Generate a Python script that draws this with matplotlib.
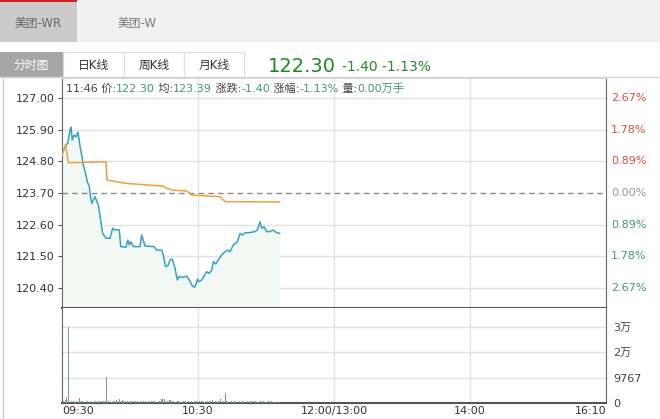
#!/usr/bin/env python3
import matplotlib
matplotlib.use('Agg')
import matplotlib.pyplot as plt
from matplotlib.patches import Rectangle

plt.rcParams['font.family'] = ['DejaVu Sans', 'Noto Sans CJK SC']

# ====== chart data ======
pre_close = 123.70
price_ticks = [127.00, 125.90, 124.80, 123.70, 122.60, 121.50, 120.40]
pct_labels = ['2.67%', '1.78%', '0.89%', '0.00%', '0.89%', '1.78%', '2.67%']
pct_colors = ['#d5503c', '#d5503c', '#d5503c', '#999999', '#3f9a72', '#3f9a72', '#3f9a72']
time_ticks = [0, 85, 170, 255, 340]
time_labels = ['09:30', '10:30', '12:00/13:00', '14:00', '16:10']
vol_ticks = [0, 9767, 19534, 29301]
vol_labels = ['0', '9767', '2万', '3万']

# minutes since 09:30 and last price
price_min = [0, 2.3, 3.6, 5.0, 5.6, 6.4, 7.5, 8.8, 10.0, 11.3, 12.3, 13.3, 15.0, 15.8,
             17.1, 17.5, 18.6, 20.6, 22.7, 23.8, 25.4, 27.5, 30.0, 31.7, 33.1, 35.8,
             36.7, 40.0, 41.1, 42.1, 42.9, 44.6, 48.8, 49.8, 51.9, 57.5, 59.2, 62.3,
             63.3, 64.8, 66.4, 67.5, 68.9, 70.6, 72.1, 73.1, 75.4, 77.9, 79.6, 81.1,
             82.7, 83.6, 84.6, 85.6, 87.3, 88.8, 90.4, 92.1, 93.6, 94.6, 96.1, 97.7,
             99.8, 101.9, 103.6, 105.0, 107.1, 109.6, 111.3, 112.9, 114.4, 116.4,
             118.6, 120.6, 122.1, 123.8, 124.8, 126.3, 127.9, 130.0, 131.7, 134.2, 136]
price_val = [125.02, 125.37, 125.42, 125.89, 125.98, 125.54, 125.71, 125.65, 125.81,
             125.31, 125.02, 124.67, 124.32, 124.09, 123.92, 123.69, 123.34, 123.57,
             123.28, 122.88, 122.30, 122.13, 122.13, 122.48, 122.42, 122.42, 121.84,
             121.82, 122.07, 121.90, 122.01, 121.84, 121.84, 122.24, 121.86, 121.84,
             121.72, 121.72, 121.55, 121.14, 121.20, 121.38, 121.41, 121.09, 120.68,
             120.80, 120.77, 120.82, 120.68, 120.51, 120.43, 120.51, 120.71, 120.62,
             120.68, 120.82, 120.97, 120.91, 121.03, 121.32, 121.24, 121.38, 121.55,
             121.66, 121.72, 121.66, 121.90, 122.01, 122.30, 122.24, 122.32, 122.32,
             122.34, 122.36, 122.42, 122.70, 122.48, 122.53, 122.36, 122.36, 122.42,
             122.32, 122.30]

# average price line
avg_min = [0, 2.3, 4.0, 27.5, 28.1, 39.4, 52.9, 63.1, 65.4, 69.4, 77.9, 81.1, 98.8, 101.9, 136]
avg_val = [125.02, 125.37, 124.75, 124.78, 124.15, 124.04, 123.98, 123.94, 123.86,
           123.80, 123.77, 123.63, 123.57, 123.40, 123.39]

# volume per minute, 09:30 .. 11:46
vol_val = [600, 800, 1200, 2200, 29200, 900, 700, 600, 500, 700,
           900, 2000, 800, 600, 500, 700, 600, 500, 600, 500,
           700, 600, 500, 600, 700, 500, 600, 800, 10100, 700,
           600, 500, 700, 600, 1200, 900, 1400, 800, 1100, 700,
           1500, 600, 500, 700, 600, 500, 600, 700, 500, 600,
           500, 700, 600, 500, 600, 500, 600, 700, 600, 500,
           600, 700, 1500, 1600, 1400, 700, 600, 1100, 1300, 900,
           600, 500, 700, 600, 500, 600, 700, 600, 500, 800,
           3450, 600, 500, 700, 600, 500, 600, 700, 600, 500,
           600, 700, 800, 600, 1200, 700, 600, 500, 900, 1500,
           700, 600, 3700, 600, 500, 600, 700, 500, 600, 500,
           600, 700, 500, 600, 500, 400, 600, 500, 600, 700,
           500, 600, 500, 400, 600, 500, 600, 500, 400, 600,
           500, 600, 500, 400, 500, 600, 500]
vol_min = list(range(len(vol_val)))

# info line: (text, is_value)
info = [('11:46 价:', False), ('122.30', True), (' 均:', False), ('123.39', True),
        (' 涨跌:', False), ('-1.40', True), (' 涨幅:', False), ('-1.13%', True),
        (' 量:', False), ('0.00万手', True)]

W, H = 660, 419


def px(x0, y0, x1, y1):
    return [x0 / W, 1 - y1 / H, (x1 - x0) / W, (y1 - y0) / H]


fig = plt.figure(figsize=(6.6, 4.19), dpi=100)
fig.patch.set_facecolor('white')

# ---- price panel ----
ax = fig.add_axes(px(62, 78, 606, 308))
ax.set_xlim(0, 340)
ax.set_ylim(119.71, 127.69)
for p in price_ticks:
    if p == pre_close:
        ax.axhline(p, color='#8a8a8a', lw=1, ls=(0, (4, 3)), zorder=3)
    else:
        ax.axhline(p, color='#e2e2e2', lw=1, zorder=1)
for t in time_ticks[1:-1]:
    ax.axvline(t, color='#e2e2e2', lw=1, zorder=1)
ax.fill_between(price_min, price_val, 119.71, color='#f2f8f4', lw=0, zorder=2)
ax.plot(price_min, price_val, color='#35a3c4', lw=1.1, zorder=4)
ax.plot(avg_min, avg_val, color='#f0a040', lw=1.1, zorder=4)

ax.set_yticks(price_ticks, ['%.2f' % p for p in price_ticks])
ax.tick_params(axis='y', length=3, color='#555555', labelsize=8, labelcolor='#333333', pad=2)
ax.set_xticks([])
for p, lab, c in zip(price_ticks, pct_labels, pct_colors):
    ax.text(1 + 5 / 544, p, lab, transform=ax.get_yaxis_transform(),
            ha='left', va='center', fontsize=8, color=c)
ax.spines['top'].set_color('#d8d8d8')
ax.spines['left'].set_color('#666666')
ax.spines['right'].set_color('#666666')
ax.spines['bottom'].set_color('#555555')
ax.spines['bottom'].set_linewidth(1.5)

# ---- volume panel ----
axv = fig.add_axes(px(62, 308, 606, 403))
axv.set_xlim(0, 340)
axv.set_ylim(0, 36400)
for v in vol_ticks[1:]:
    axv.axhline(v, color='#e2e2e2', lw=1, zorder=1)
for t in time_ticks[1:-1]:
    axv.axvline(t, color='#e2e2e2', lw=1, zorder=1)
axv.bar(vol_min, vol_val, width=0.6, color='#6f9f88', zorder=3)
axv.set_yticks(vol_ticks, vol_labels)
axv.yaxis.tick_right()
axv.tick_params(axis='y', length=0, labelsize=8, labelcolor='#444444', pad=5)
axv.set_xticks(time_ticks, time_labels)
axv.tick_params(axis='x', length=0, labelsize=8, labelcolor='#333333', pad=2)
xl = axv.get_xticklabels()
xl[0].set_ha('left')
xl[-1].set_ha('right')
axv.spines['top'].set_visible(False)
axv.spines['left'].set_color('#666666')
axv.spines['right'].set_color('#666666')
axv.spines['bottom'].set_color('#555555')
axv.spines['bottom'].set_linewidth(1.5)

# ---- page overlay: tabs, header, info line ----
ov = fig.add_axes([0, 0, 1, 1])
ov.set_xlim(0, W)
ov.set_ylim(H, 0)
ov.axis('off')
ov.patch.set_alpha(0)

ov.add_patch(Rectangle((0, 0), W, 42, fc='#f0f0f0', ec='none'))
ov.add_patch(Rectangle((0, 2), 77, 40, fc='#cbcbcb', ec='none'))
ov.add_patch(Rectangle((0, 0), 77, 2.5, fc='#d02020', ec='none'))
ov.text(38, 23, '美团-WR', ha='center', va='center', fontsize=8.5, color='#666666')
ov.text(137, 23, '美团-W', ha='center', va='center', fontsize=8.5, color='#777777')

ov.add_patch(Rectangle((0, 52), 63, 25, fc='#a6a6a6', ec='none'))
ov.text(31.5, 65, '分时图', ha='center', va='center', fontsize=8.5, color='white')
tabs = [('日K线', 63, 124), ('周K线', 124, 184), ('月K线', 184, 244)]
for name, x0, x1 in tabs:
    ov.add_patch(Rectangle((x0, 52), x1 - x0, 25, fc='white', ec='#dcdcdc', lw=0.8))
    ov.text((x0 + x1) / 2, 65, name, ha='center', va='center', fontsize=8.5, color='#333333')
ov.plot([0, W], [77.5, 77.5], color='#d4d4d4', lw=1)
ov.plot([2.5, 2.5], [78, H], color='#d0d0d0', lw=1)

ov.text(268, 66, '122.30', ha='left', va='center', fontsize=14, color='#1a8c1a')
ov.text(342, 67, '-1.40 -1.13%', ha='left', va='center', fontsize=10, color='#2a8a2a')

# chain the info segments one after another
fig.canvas.draw()
r = fig.canvas.get_renderer()
x = 66
for s, is_val in info:
    t = ov.text(x, 89, s, ha='left', va='center', fontsize=8,
                color='#3f9a72' if is_val else '#444444')
    bb = t.get_window_extent(r)
    x += bb.width

plt.savefig('out.png', dpi=100)
